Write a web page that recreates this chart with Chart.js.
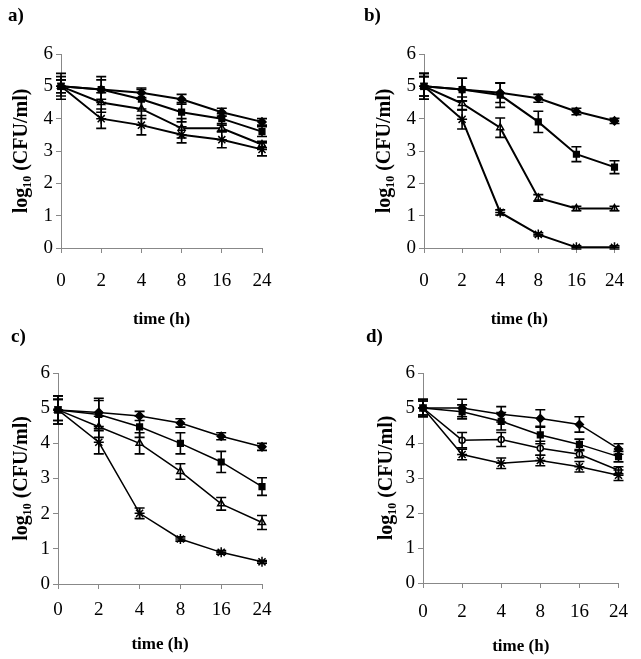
<!DOCTYPE html>
<html>
<head>
<meta charset="utf-8">
<script src="https://cdn.jsdelivr.net/npm/chart.js@4"></script>
<style>
  body { margin: 0; background: #fff; }
  #wrap { position: relative; width: 641px; height: 659px; }
  canvas { position: absolute; }
  .lab { position: absolute; font: bold 19px "Liberation Serif", "Times New Roman", serif; color: #000; }
</style>
</head>
<body>
<div id="wrap">
  <canvas id="ca" width="320" height="330" style="left:0;top:0"></canvas>
  <canvas id="cb" width="321" height="330" style="left:320px;top:0"></canvas>
  <canvas id="cc" width="320" height="329" style="left:0;top:330px"></canvas>
  <canvas id="cd" width="321" height="329" style="left:320px;top:330px"></canvas>
  <div class="lab" style="left:8px;top:4px">a)</div>
  <div class="lab" style="left:364px;top:4px">b)</div>
  <div class="lab" style="left:11px;top:325px">c)</div>
  <div class="lab" style="left:366px;top:325px">d)</div>
</div>
<script>
// time points (h)
const times = ["0", "2", "4", "8", "16", "24"];

// panel a
const aDiamond = [5.0, 4.9, 4.8, 4.6, 4.2, 3.9];
const aDiamondErr = [0.4, 0.4, 0.15, 0.15, 0.12, 0.1];
const aSquare = [5.0, 4.9, 4.6, 4.2, 4.0, 3.6];
const aSquareErr = [0.3, 0.3, 0.3, 0.3, 0.15, 0.15];
const aTriangle = [5.0, 4.5, 4.3, 3.7, 3.7, 3.2];
const aTriangleErr = [0.2, 0.3, 0.3, 0.3, 0.1, 0.1];
const aStar = [5.0, 4.0, 3.8, 3.5, 3.35, 3.05];
const aStarErr = [0.2, 0.3, 0.3, 0.25, 0.25, 0.2];

// panel b
const bDiamond = [5.0, 4.9, 4.8, 4.63, 4.22, 3.93];
const bDiamondErr = [0.4, 0.35, 0.3, 0.12, 0.1, 0.08];
const bSquare = [5.0, 4.9, 4.73, 3.9, 2.9, 2.5];
const bSquareErr = [0.4, 0.35, 0.38, 0.33, 0.23, 0.2];
const bTriangle = [5.0, 4.47, 3.72, 1.55, 1.22, 1.22];
const bTriangleErr = [0.3, 0.2, 0.3, 0.1, 0.07, 0.07];
const bStar = [5.0, 3.98, 1.1, 0.42, 0.02, 0.02];
const bStarErr = [0.3, 0.3, 0.08, 0.05, 0.05, 0.05];

// panel c
const cDiamond = [4.95, 4.88, 4.78, 4.58, 4.2, 3.9];
const cDiamondErr = [0.4, 0.4, 0.13, 0.12, 0.1, 0.1];
const cSquare = [4.95, 4.82, 4.47, 4.0, 3.47, 2.77];
const cSquareErr = [0.4, 0.4, 0.3, 0.3, 0.3, 0.25];
const cTriangle = [4.95, 4.47, 4.0, 3.2, 2.28, 1.75];
const cTriangleErr = [0.3, 0.3, 0.3, 0.22, 0.18, 0.2];
const cStar = [4.95, 4.03, 2.01, 1.28, 0.9, 0.63];
const cStarErr = [0.3, 0.33, 0.15, 0.06, 0.05, 0.04];

// panel d
const dDiamond = [5.0, 5.0, 4.82, 4.7, 4.53, 3.83];
const dDiamondErr = [0.25, 0.25, 0.22, 0.25, 0.22, 0.15];
const dSquare = [5.0, 4.89, 4.62, 4.23, 3.96, 3.61];
const dSquareErr = [0.25, 0.2, 0.25, 0.25, 0.15, 0.15];
const dCircle = [5.0, 4.08, 4.1, 3.85, 3.68, 3.22];
const dCircleErr = [0.2, 0.22, 0.2, 0.2, 0.1, 0.1];
const dStar = [5.0, 3.67, 3.42, 3.5, 3.32, 3.08];
const dStarErr = [0.2, 0.15, 0.15, 0.15, 0.15, 0.15];

const FONT = '"Liberation Serif", "Times New Roman", serif';

// draws vertical error bars with caps from dataset.errors
const errorBars = {
    id: "errorBars",
    afterDatasetsDraw(chart) {
        const ctx = chart.ctx;
        const y = chart.scales.y;
        ctx.save();
        ctx.strokeStyle = "#000";
        ctx.lineWidth = 1.6;
        chart.data.datasets.forEach((ds, i) => {
            const meta = chart.getDatasetMeta(i);
            meta.data.forEach((pt, j) => {
                const e = ds.errors[j];
                const top = y.getPixelForValue(ds.data[j] + e);
                const bot = y.getPixelForValue(ds.data[j] - e);
                ctx.beginPath();
                ctx.moveTo(pt.x, top); ctx.lineTo(pt.x, bot);
                ctx.moveTo(pt.x - 5, top); ctx.lineTo(pt.x + 5, top);
                ctx.moveTo(pt.x - 5, bot); ctx.lineTo(pt.x + 5, bot);
                ctx.stroke();
            });
        });
        ctx.restore();
    }
};

function series(data, errors, style, fill, width) {
    return {
        data: data,
        errors: errors,
        borderColor: "#000",
        borderWidth: width,
        tension: 0,
        pointStyle: style,
        pointRadius: style == "star" ? 5 : (style == "circle" ? 3 : 4),
        pointBorderWidth: 1.5,
        pointBorderColor: "#000",
        pointBackgroundColor: fill ? "#000" : "#fff"
    };
}

function makePanel(id, datasets, box) {
    const canvas = document.getElementById(id);
    const H = canvas.height;
    new Chart(canvas, {
        type: "line",
        data: { labels: times, datasets: datasets },
        plugins: [errorBars],
        options: {
            responsive: false,
            animation: false,
            layout: { padding: { top: box.top, right: canvas.width - box.right, left: 0, bottom: 0 } },
            plugins: { legend: { display: false }, tooltip: { enabled: false } },
            scales: {
                x: {
                    type: "category",
                    offset: false,
                    grid: { drawOnChartArea: false, color: "#888", tickLength: 5 },
                    border: { color: "#888", width: 1 },
                    ticks: { color: "#000", padding: box.xPad, font: { family: FONT, size: 19 } },
                    title: {
                        display: true, text: "time (h)", color: "#000",
                        padding: { top: 0, bottom: box.titleBottom },
                        font: { family: FONT, size: 17, weight: "bold" }
                    },
                    afterFit: s => { s.height = H - box.bottom; }
                },
                y: {
                    min: 0, max: 6,
                    grid: { drawOnChartArea: false, color: "#888", tickLength: 5 },
                    border: { color: "#888", width: 1 },
                    ticks: { stepSize: 1, color: "#000", padding: 3, font: { family: FONT, size: 19 } },
                    title: {
                        display: true, text: "log\u2081\u2080 (CFU/ml)", color: "#000",
                        padding: { top: box.yTitle, bottom: 0 },
                        font: { family: FONT, size: 20, weight: "bold" }
                    },
                    afterFit: s => { s.width = box.left; }
                }
            }
        }
    });
}

makePanel("ca", [
    series(aDiamond, aDiamondErr, "rectRot", true, 2),
    series(aSquare, aSquareErr, "rect", true, 2),
    series(aTriangle, aTriangleErr, "triangle", false, 2),
    series(aStar, aStarErr, "star", true, 2)
], { left: 61, right: 262, top: 54, bottom: 248, xPad: 17, titleBottom: 0, yTitle: 10 });

makePanel("cb", [
    series(bDiamond, bDiamondErr, "rectRot", true, 2),
    series(bSquare, bSquareErr, "rect", true, 2),
    series(bTriangle, bTriangleErr, "triangle", false, 2),
    series(bStar, bStarErr, "star", true, 2)
], { left: 104, right: 304, top: 54, bottom: 248, xPad: 17, titleBottom: 0, yTitle: 53 });

makePanel("cc", [
    series(cDiamond, cDiamondErr, "rectRot", true, 1.5),
    series(cSquare, cSquareErr, "rect", true, 1.5),
    series(cTriangle, cTriangleErr, "triangle", false, 1.5),
    series(cStar, cStarErr, "star", true, 1.5)
], { left: 58, right: 262, top: 43, bottom: 254, xPad: 10, titleBottom: 4, yTitle: 10 });

makePanel("cd", [
    series(dDiamond, dDiamondErr, "rectRot", true, 1.5),
    series(dSquare, dSquareErr, "rect", true, 1.5),
    series(dCircle, dCircleErr, "circle", false, 1.5),
    series(dStar, dStarErr, "star", true, 1.5)
], { left: 103, right: 307, top: 43, bottom: 253, xPad: 13, titleBottom: 2, yTitle: 55 });
</script>
</body>
</html>
